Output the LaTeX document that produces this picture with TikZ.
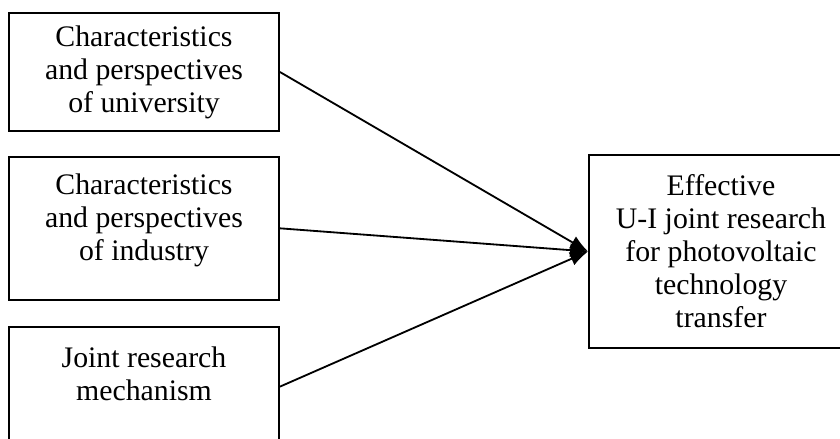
\documentclass[tikz,border=0pt]{standalone}
\usepackage{fontspec}
\setmainfont{Liberation Serif}
\usetikzlibrary{positioning}
\usetikzlibrary{arrows.meta}
\tikzstyle{myFactor} = [draw,rectangle,line width=1.3pt,minimum width=6.75cm,align=center,font=\fontsize{21.2}{23.5}\selectfont]
\tikzstyle{myGoal} = [draw,rectangle,line width=1.3pt,minimum width=6.6cm,minimum height=4.825cm,align=center,font=\fontsize{21.2}{23.5}\selectfont]

\begin{document}
\begin{tikzpicture}[>={Latex[length=4.5mm,width=3.5mm]}]
			\useasboundingbox (0,0) rectangle (21,10.975);
			\clip (0,0) rectangle (21,10.975);
			\node[myFactor,minimum height=2.95cm] (n1) at (3.6,9.175) {Characteristics\\and perspectives\\of university};
			\node[myFactor,minimum height=3.575cm,text depth=0.55cm,below=0.6cm of n1] (n2) {Characteristics\\and perspectives\\of industry};
			\node[myFactor,minimum height=3cm,text depth=0.65cm,below=0.625cm of n2] (n3) {Joint research\\mechanism};
			\node[myGoal] (n4) at (18.025,4.6875) {Effective\\U-I joint research\\for photovoltaic\\technology\\transfer};
			\draw[->,line width=1.3pt] (n1.east)--(n4.west);
			\draw[->,line width=1.3pt] (n2.east)--(n4.west);
			\draw[->,line width=1.3pt] (n3.east)--(n4.west);
		\end{tikzpicture}
\end{document}
